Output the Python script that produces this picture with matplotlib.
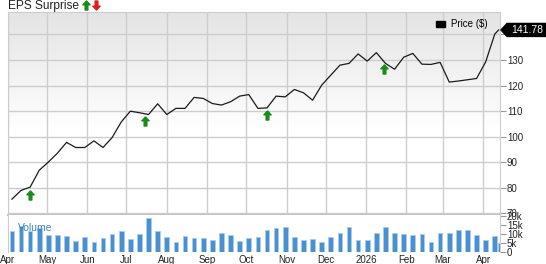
import numpy as np
import pandas as pd
import matplotlib
matplotlib.use("Agg")
import matplotlib.pyplot as plt
import matplotlib.dates as mdates
from matplotlib.path import Path
from matplotlib.patches import Polygon, Patch
from matplotlib.transforms import ScaledTranslation, IdentityTransform

plt.rcParams["font.family"] = ["Liberation Sans", "DejaVu Sans"]

# weekly closes
week_start = "2025-04-04"
prices = [75.6, 79.0, 80.3, 86.9, 90.1, 93.6, 97.8, 95.8, 95.8, 98.4,
          95.8, 99.7, 105.8, 110.0, 109.4, 108.7, 112.9, 108.7, 111.1, 111.1,
          115.4, 115.0, 113.0, 112.4, 113.7, 115.9, 116.5, 111.1, 111.3, 115.9,
          115.6, 118.5, 117.2, 114.3, 120.2, 124.1, 128.0, 128.7, 132.4, 129.6,
          132.9, 128.7, 126.4, 131.1, 132.6, 128.4, 128.3, 129.1, 121.4, 121.8,
          122.3, 122.8, 129.3, 140.2]
last_date = "2026-04-13"
last_price = 141.78

# weekly volume in thousands
volumes_k = [11.6, 14.5, 11.6, 13.5, 9.3, 9.3, 8.7, 6.3, 8.5, 5.4,
             7.6, 9.8, 11.6, 7.0, 9.8, 18.7, 11.6, 8.1, 5.7, 8.7,
             7.6, 7.6, 6.8, 10.4, 9.3, 6.0, 7.6, 8.5, 12.3, 13.1,
             13.6, 8.5, 6.6, 7.4, 5.6, 8.1, 10.6, 13.6, 6.8, 6.8,
             10.6, 13.6, 10.6, 9.8, 9.3, 9.9, 5.6, 10.6, 10.6, 12.2,
             12.2, 9.3, 6.6, 8.7]
partial_date = "2026-04-14"
partial_volume_k = 5.2

eps_beats = ["2025-04-18", "2025-07-15", "2025-10-17", "2026-01-15"]

month_starts = pd.date_range("2025-04-01", "2026-04-01", freq="MS")
month_labels = ["Apr", "May", "Jun", "Jul", "Aug", "Sep", "Oct", "Nov", "Dec",
                "2026", "Feb", "Mar", "Apr"]
price_ticks = [70, 80, 90, 100, 110, 120, 130]
vol_ticks = [0, 5, 10, 15, 20]
vol_labels = ["0", "5k", "10k", "15k", "20k"]

W, H = 546, 264
fig = plt.figure(figsize=(W / 100, H / 100), dpi=100)
ax = fig.add_axes([8 / W, 1 - 215 / H, 492 / W, 203 / H])
vax = fig.add_axes([8 / W, 1 - 252 / H, 492 / W, 37 / H], sharex=ax)

weeks = pd.date_range(week_start, periods=len(prices), freq="7D")
price_dates = list(weeks) + [pd.Timestamp(last_date)]
price_vals = prices + [last_price]

grid_c = "#cdcdcd"
text_c = "#222222"

# background gradient
grad = np.ones((200, 1))
frac = np.linspace(1, 0, 200)
grad[:, 0] = np.clip((frac - 0.42) / 0.58, 0, 1)
ax.imshow(grad, extent=[0, 1, 0, 1], transform=ax.transAxes, aspect="auto",
          cmap=matplotlib.colors.LinearSegmentedColormap.from_list("g", ["#ffffff", "#e4e4e4"]),
          vmin=0, vmax=1, zorder=0, interpolation="bilinear")

ax.plot(price_dates, price_vals, color="#1a1a1a", lw=0.9, zorder=3)

# EPS arrows
up = Path([(0, 1), (0.8, 0.15), (0.3, 0.15), (0.3, -1), (-0.3, -1), (-0.3, 0.15),
           (-0.8, 0.15), (0, 1)],
          [Path.MOVETO] + [Path.LINETO] * 6 + [Path.CLOSEPOLY])
down = Path(up.vertices * [1, -1], up.codes)
xnum = mdates.date2num(price_dates)
eps_x = mdates.date2num(pd.to_datetime(eps_beats))
eps_y = np.interp(eps_x, xnum, price_vals)
off = ax.transData + ScaledTranslation(0, -7.5 / 100, fig.dpi_scale_trans)
ax.plot(eps_x, eps_y, ls="none", marker=up, ms=6.5, color="#178a17",
        mec="#178a17", transform=off, zorder=4)

ax.set_ylim(69.4, 148.8)
ax.set_yticks(price_ticks + [140])
ax.set_yticklabels([str(t) for t in price_ticks] + [""])
ax.set_xlim(pd.Timestamp("2025-04-01"), pd.Timestamp("2026-04-14"))
ax.set_xticks(month_starts)
ax.grid(True, color=grid_c, lw=1)
ax.set_axisbelow(True)
ax.tick_params(axis="x", length=0, labelbottom=False)
ax.tick_params(axis="y", left=False, labelleft=False, right=True, labelright=True,
               length=4, color="#999999", labelsize=7, labelcolor=text_c, pad=1)
for s in ["left", "top", "right"]:
    ax.spines[s].set_color(grid_c)
ax.spines["bottom"].set_color("#c4c4c4")
ax.spines["bottom"].set_linewidth(1.5)

ax.legend(handles=[Patch(color="black", label="Price ($)")], loc="center right",
          bbox_to_anchor=(0.985, 0.94), frameon=False, fontsize=7,
          handlelength=1.0, handleheight=0.55, handletextpad=0.6, borderpad=0)

# volume panel
bar_dates = list(weeks) + [pd.Timestamp(partial_date)]
bar_vals = volumes_k + [partial_volume_k]
vax.bar(bar_dates, bar_vals, width=3.6, color="#4a8fcf", edgecolor="#a9cbec",
        lw=0.6, zorder=2)
vax.set_ylim(0, 20.5)
vax.set_yticks(vol_ticks)
vax.set_yticklabels(vol_labels)
vax.set_xticks(month_starts)
vax.set_xticklabels(month_labels)
vax.tick_params(axis="x", length=0, labelsize=7, labelcolor=text_c, pad=2)
vax.tick_params(axis="y", left=False, labelleft=False, right=True, labelright=True,
                length=4, color="#999999", labelsize=7, labelcolor=text_c, pad=1)
for s in ["left", "right"]:
    vax.spines[s].set_color(grid_c)
vax.spines["top"].set_visible(False)
vax.spines["bottom"].set_visible(False)
vax.text(0.02, 0.66, "Volume", transform=vax.transAxes, color="#3d85c6",
         fontsize=7.5, va="center", zorder=3)

# title with EPS arrows
fig.text(8 / W, 1 - 9.5 / H, "EPS Surprise", fontsize=8.6, color=text_c, va="baseline")
fig.add_artist(plt.Line2D([86 / W], [1 - 4.5 / H], marker=up, ms=6.5, color="#178a17",
                          ls="none", transform=fig.transFigure))
fig.add_artist(plt.Line2D([96 / W], [1 - 4.5 / H], marker=down, ms=6.5, color="#e0191e",
                          ls="none", transform=fig.transFigure))

# last price tag
fig.canvas.draw()
yp = ax.transData.transform((0, last_price))[1]
tag = Polygon([(501, yp), (507, yp + 6.5), (546, yp + 6.5), (546, yp - 6.5), (507, yp - 6.5)],
              closed=True, color="black", transform=IdentityTransform())
fig.add_artist(tag)
fig.text(527 / W, yp / H, f"{last_price:.2f}", color="white", fontsize=7.5,
         ha="center", va="center")

fig.savefig("out.png", dpi=100)
